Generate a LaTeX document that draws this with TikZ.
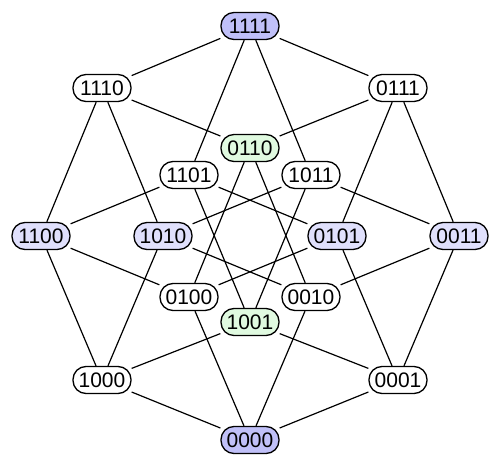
\documentclass[tikz,border=0pt]{standalone}
\usepackage{fontspec}
\setmainfont{Liberation Sans}
\definecolor{dblue}{HTML}{C0C0F8}
\definecolor{lblue}{HTML}{E0E0FC}
\definecolor{lgreen}{HTML}{E0FAE0}
\begin{document}
\begin{tikzpicture}[x=1pt,y=-1pt,
  vtx/.style={draw,line width=1.3pt,rounded corners=13pt,minimum width=58pt,minimum height=27pt,inner sep=0pt,font=\fontsize{21}{24}\selectfont,fill=white},
  edge/.style={line width=1.2pt}]
\useasboundingbox (0,0) rectangle (500,470);
\node[vtx,fill=dblue] (1111) at (250,26) {1111};
\node[vtx] (1110) at (102,88) {1110};
\node[vtx] (0111) at (398,88) {0111};
\node[vtx,fill=lgreen] (0110) at (250,148) {0110};
\node[vtx] (1101) at (189,175) {1101};
\node[vtx] (1011) at (311,175) {1011};
\node[vtx,fill=lblue] (1100) at (41,236) {1100};
\node[vtx,fill=lblue] (1010) at (163,236) {1010};
\node[vtx,fill=lblue] (0101) at (337,236) {0101};
\node[vtx,fill=lblue] (0011) at (459,236) {0011};
\node[vtx] (0100) at (189,297) {0100};
\node[vtx] (0010) at (311,297) {0010};
\node[vtx,fill=lgreen] (1001) at (250,322) {1001};
\node[vtx] (1000) at (102,380) {1000};
\node[vtx] (0001) at (398,380) {0001};
\node[vtx,fill=dblue] (0000) at (250,440) {0000};
\foreach \a/\b in {1111/1110,1111/0111,1111/1101,1111/1011,
  1110/0110,1110/1100,1110/1010,
  0111/0110,0111/0101,0111/0011,
  1101/1100,1101/0101,1101/1001,
  1011/1010,1011/0011,1011/1001,
  0110/0100,0110/0010,
  1100/0100,1100/1000,
  1010/0010,1010/1000,
  0101/0100,0101/0001,
  0011/0010,0011/0001,
  1001/1000,1001/0001,
  0100/0000,0010/0000,1000/0000,0001/0000}
  \draw[edge] (\a) -- (\b);
\end{tikzpicture}
\end{document}
